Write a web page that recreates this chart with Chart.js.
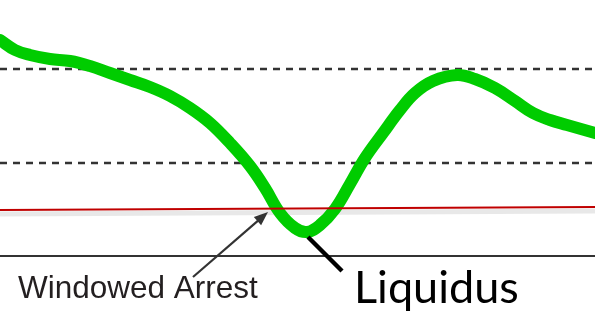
<!DOCTYPE html>
<html>
<head>
<meta charset="utf-8">
<script src="https://cdn.jsdelivr.net/npm/chart.js@4.4.1/dist/chart.umd.min.js"></script>
<style>
  html, body { margin: 0; padding: 0; background: #fff; }
  canvas { display: block; }
</style>
</head>
<body>
<canvas id="cooling" width="595" height="335"></canvas>
<script>
// Cooling curve (x = time, y = depth below top, axis reversed)
const curveX = [0, 15, 30, 50, 70, 90, 110, 130, 150, 170, 190, 210, 230, 250, 265, 280, 295, 307, 320, 335,
  350, 365, 383, 400, 415, 433, 457, 475, 495, 515, 533, 550, 567, 595];
const curveY = [40, 50, 55, 59, 61, 66, 73, 80, 87, 96, 108, 123, 143, 166, 188, 213, 228, 232, 225, 209,
  184, 158, 133, 110, 93, 81, 75, 79, 88, 101, 113, 120, 125, 133];

// Reference lines
const dashedLevels = [69, 163];
const arrestLine = [210, 207];   // left end, right end
const baseLevel = 256;

// Annotations (data coordinates)
const arrestArrow = { from: [193, 277], to: [268, 212] };
const liquidusPointer = { from: [308, 237], to: [342, 271] };
const arrestLabel = { text: 'Windowed Arrest', at: [18, 298] };
const liquidusLabel = { text: 'Liquidus', at: [354, 303] };

const X_MAX = 595;
const Y_MAX = 335;

const pts = curveX.map((x, i) => ({ x, y: curveY[i] }));
const flat = (y1, y2) => [{ x: 0, y: y1 }, { x: X_MAX, y: y2 }];

const annotate = {
  id: 'annotate',
  afterDatasetsDraw(chart) {
    const { ctx, scales: { x, y } } = chart;
    const px = p => [x.getPixelForValue(p[0]), y.getPixelForValue(p[1])];
    ctx.save();

    // liquidus pointer
    let a = px(liquidusPointer.from), b = px(liquidusPointer.to);
    ctx.strokeStyle = '#000';
    ctx.lineWidth = 4.5;
    ctx.beginPath();
    ctx.moveTo(a[0], a[1]);
    ctx.lineTo(b[0], b[1]);
    ctx.stroke();

    // arrest arrow
    a = px(arrestArrow.from); b = px(arrestArrow.to);
    ctx.strokeStyle = '#333';
    ctx.fillStyle = '#333';
    ctx.lineWidth = 2.2;
    const ang = Math.atan2(b[1] - a[1], b[0] - a[0]);
    const head = 15;
    ctx.beginPath();
    ctx.moveTo(a[0], a[1]);
    ctx.lineTo(b[0] - Math.cos(ang) * head * 0.8, b[1] - Math.sin(ang) * head * 0.8);
    ctx.stroke();
    ctx.beginPath();
    ctx.moveTo(b[0], b[1]);
    ctx.lineTo(b[0] - head * Math.cos(ang - 0.38), b[1] - head * Math.sin(ang - 0.38));
    ctx.lineTo(b[0] - head * Math.cos(ang + 0.38), b[1] - head * Math.sin(ang + 0.38));
    ctx.closePath();
    ctx.fill();

    // labels
    ctx.textBaseline = 'alphabetic';
    ctx.fillStyle = '#231f20';
    ctx.font = '31.5px "Liberation Sans", Arial, sans-serif';
    let p = px(arrestLabel.at);
    ctx.fillText(arrestLabel.text, p[0], p[1]);

    ctx.fillStyle = '#000';
    ctx.font = '45px Lato, "Open Sans", sans-serif';
    p = px(liquidusLabel.at);
    ctx.fillText(liquidusLabel.text, p[0], p[1]);

    ctx.restore();
  }
};

new Chart(document.getElementById('cooling'), {
  type: 'scatter',
  data: {
    datasets: [
      {
        data: flat(arrestLine[0], arrestLine[1]),
        showLine: true, borderColor: '#c00000', borderWidth: 2, pointRadius: 0, order: 0
      },
      {
        data: pts,
        showLine: true, borderColor: '#00cc00', borderWidth: 12, pointRadius: 0,
        tension: 0.4, borderCapStyle: 'round', borderJoinStyle: 'round', order: 1
      },
      {
        data: flat(arrestLine[0] + 4, arrestLine[1] + 4),
        showLine: true, borderColor: 'rgba(0,0,0,0.09)', borderWidth: 5, pointRadius: 0, order: 2
      },
      ...dashedLevels.map(v => ({
        data: flat(v, v),
        showLine: true, borderColor: '#333', borderWidth: 2.5, borderDash: [7, 6], pointRadius: 0, order: 3
      })),
      {
        data: flat(baseLevel, baseLevel),
        showLine: true, borderColor: '#333', borderWidth: 2, pointRadius: 0, order: 3
      }
    ]
  },
  options: {
    responsive: false,
    animation: false,
    events: [],
    layout: { padding: 0 },
    scales: {
      x: { type: 'linear', min: 0, max: X_MAX, display: false },
      y: { min: 0, max: Y_MAX, reverse: true, display: false }
    },
    plugins: { legend: { display: false }, tooltip: { enabled: false } }
  },
  plugins: [annotate]
});
</script>
</body>
</html>
